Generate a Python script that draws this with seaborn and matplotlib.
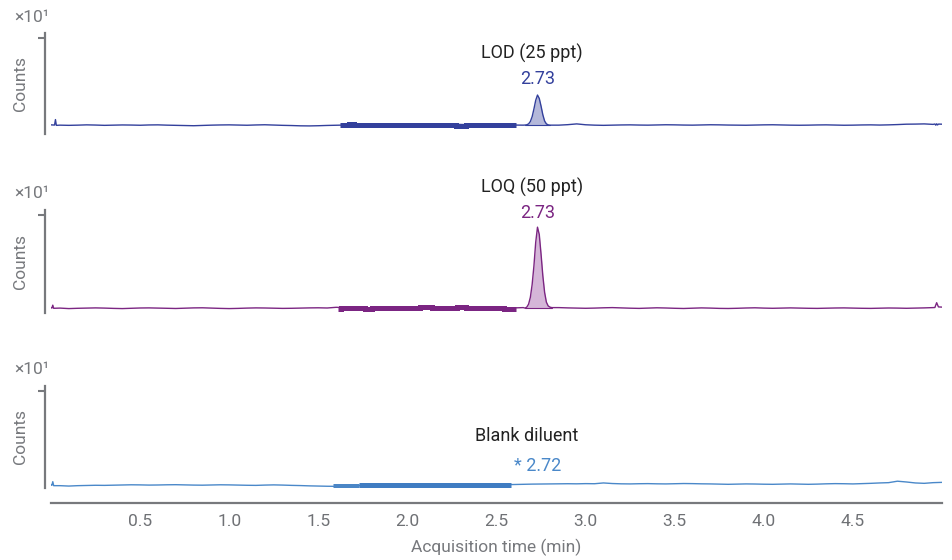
import numpy as np
import pandas as pd
import matplotlib
matplotlib.use("Agg")
import matplotlib.pyplot as plt
import seaborn as sns

# ---------------- data ----------------
t_grid = [round(0.05 * i, 2) for i in range(101)]

lod_base = [0.95, 0.92, 0.90, 0.92, 0.95, 0.93, 0.90, 0.92, 0.94, 0.93,
            0.91, 0.94, 0.95, 0.92, 0.90, 0.88, 0.86, 0.89, 0.92, 0.94,
            0.95, 0.93, 0.91, 0.94, 0.96, 0.93, 0.90, 0.88, 0.85, 0.84,
            0.86, 0.89, 0.91, 0.93, 0.95, 1.00, 1.02, 0.99, 0.97, 0.98,
            1.00, 0.98, 0.96, 0.97, 0.99, 1.01, 0.99, 0.97, 0.98, 1.00,
            0.98, 0.95, 0.93, 0.92, 0.93, 0.95, 0.93, 0.92, 0.97, 1.05,
            0.96, 0.92, 0.90, 0.92, 0.94, 0.95, 0.93, 0.92, 0.94, 0.96,
            0.95, 0.93, 0.92, 0.94, 0.96, 0.95, 0.93, 0.92, 0.91, 0.93,
            0.95, 0.96, 0.94, 0.92, 0.91, 0.92, 0.94, 0.95, 0.93, 0.91,
            0.92, 0.94, 0.95, 0.93, 0.95, 0.98, 1.02, 1.03, 1.05, 1.00, 1.02]
lod_peak_t = [2.66, 2.67, 2.68, 2.69, 2.70, 2.71, 2.72, 2.73, 2.74, 2.75,
              2.76, 2.77, 2.78, 2.79, 2.80]
lod_peak_y = [0.93, 0.96, 1.05, 1.30, 1.80, 2.60, 3.50, 4.05, 3.70, 2.90,
              2.00, 1.35, 1.05, 0.95, 0.92]
lod_spike_t = [0.02, 0.025, 0.03, 4.96, 4.965, 4.97, 4.975, 4.98]
lod_spike_y = [0.93, 1.50, 0.90, 1.04, 0.92, 1.06, 0.94, 1.03]

loq_base = [0.55, 0.50, 0.45, 0.48, 0.50, 0.52, 0.50, 0.47, 0.45, 0.48,
            0.51, 0.52, 0.50, 0.48, 0.46, 0.49, 0.52, 0.53, 0.50, 0.47,
            0.45, 0.47, 0.50, 0.52, 0.51, 0.49, 0.47, 0.48, 0.50, 0.52,
            0.53, 0.51, 0.58, 0.55, 0.50, 0.47, 0.48, 0.50, 0.52, 0.50,
            0.48, 0.50, 0.53, 0.55, 0.52, 0.50, 0.49, 0.50, 0.52, 0.50,
            0.48, 0.50, 0.52, 0.55, 0.52, 0.50, 0.52, 0.55, 0.52, 0.50,
            0.48, 0.50, 0.53, 0.55, 0.52, 0.49, 0.47, 0.50, 0.53, 0.51,
            0.48, 0.46, 0.49, 0.52, 0.50, 0.47, 0.46, 0.48, 0.51, 0.53,
            0.50, 0.48, 0.50, 0.52, 0.50, 0.48, 0.47, 0.49, 0.51, 0.52,
            0.50, 0.48, 0.47, 0.49, 0.51, 0.50, 0.48, 0.50, 0.52, 0.55, 0.60]
loq_peak_t = [2.66, 2.67, 2.68, 2.69, 2.70, 2.71, 2.72, 2.73, 2.74, 2.75,
              2.76, 2.77, 2.78, 2.79, 2.80, 2.81]
loq_peak_y = [0.50, 0.60, 0.90, 1.60, 2.90, 4.80, 7.20, 8.75, 8.00, 6.00,
              3.80, 2.10, 1.10, 0.72, 0.60, 0.55]
loq_spike_t = [0.005, 0.01, 0.015, 4.96, 4.97, 4.98]
loq_spike_y = [0.50, 0.80, 0.48, 0.56, 1.05, 0.62]

blank_base = [0.30, 0.24, 0.20, 0.24, 0.26, 0.28, 0.27, 0.29, 0.31, 0.33,
              0.32, 0.30, 0.31, 0.33, 0.34, 0.32, 0.30, 0.29, 0.31, 0.33,
              0.32, 0.30, 0.28, 0.27, 0.30, 0.32, 0.30, 0.27, 0.25, 0.22,
              0.20, 0.18, 0.17, 0.19, 0.22, 0.26, 0.28, 0.29, 0.30, 0.31,
              0.32, 0.31, 0.30, 0.32, 0.33, 0.32, 0.31, 0.33, 0.34, 0.33,
              0.32, 0.34, 0.36, 0.38, 0.40, 0.41, 0.42, 0.43, 0.44, 0.43,
              0.45, 0.44, 0.52, 0.46, 0.43, 0.42, 0.44, 0.45, 0.43, 0.42,
              0.44, 0.46, 0.45, 0.43, 0.42, 0.40, 0.38, 0.40, 0.42, 0.41,
              0.39, 0.38, 0.40, 0.42, 0.40, 0.38, 0.40, 0.43, 0.45, 0.44,
              0.42, 0.45, 0.48, 0.52, 0.55, 0.70, 0.62, 0.52, 0.48, 0.55, 0.58]
blank_spike_t = [0.005, 0.01, 0.015]
blank_spike_y = [0.28, 0.65, 0.24]

# integration baseline segments (time, level)
lod_int_t = [1.62, 1.67, 1.67, 1.70, 1.70, 2.27, 2.27, 2.33, 2.33, 2.61]
lod_int_y = [0.90, 0.90, 1.00, 1.00, 0.90, 0.90, 0.78, 0.78, 0.90, 0.90]
loq_int_t = [1.61, 1.63, 1.63, 1.76, 1.76, 1.80, 1.80, 2.07, 2.07, 2.14,
             2.14, 2.28, 2.28, 2.33, 2.33, 2.54, 2.54, 2.61]
loq_int_y = [0.45, 0.45, 0.52, 0.52, 0.40, 0.40, 0.50, 0.50, 0.58, 0.58,
             0.50, 0.50, 0.58, 0.58, 0.50, 0.50, 0.42, 0.42]
blank_int1_t = [1.58, 1.73]
blank_int1_y = [0.18, 0.18]
blank_int2_t = [1.73, 2.58]
blank_int2_y = [0.28, 0.28]

titles = ["LOD (25 ppt)", "LOQ (50 ppt)", "Blank diluent"]
rt_labels = ["2.73", "2.73", "* 2.72"]
x_ticks = [0.5, 1.0, 1.5, 2.0, 2.5, 3.0, 3.5, 4.0, 4.5]

colors = ["#33409c", "#7b2582", "#4a88c9"]
fills = ["#b4b8da", "#d5b6d8", None]


def merge(base, extra_t, extra_y, pt=None, py=None):
    t = np.array(t_grid, dtype=float)
    y = np.array(base, dtype=float)
    if pt is not None:
        m = (t < pt[0] - 0.001) | (t > pt[-1] + 0.001)
        t = np.concatenate([t[m], pt])
        y = np.concatenate([y[m], py])
    t = np.concatenate([t, extra_t])
    y = np.concatenate([y, extra_y])
    o = np.argsort(t, kind="stable")
    return pd.DataFrame({"t": t[o], "y": y[o]})


traces = [merge(lod_base, lod_spike_t, lod_spike_y, lod_peak_t, lod_peak_y),
          merge(loq_base, loq_spike_t, loq_spike_y, loq_peak_t, loq_peak_y),
          merge(blank_base, blank_spike_t, blank_spike_y)]
peaks = [(lod_peak_t, lod_peak_y), (loq_peak_t, loq_peak_y), None]
ints = [[(lod_int_t, lod_int_y, colors[0])],
        [(loq_int_t, loq_int_y, colors[1])],
        [(blank_int1_t, blank_int1_y, "#4b86c6"), (blank_int2_t, blank_int2_y, "#3f7cc2")]]

# ---------------- style ----------------
sns.set_theme(style="white")
plt.rcParams["font.family"] = ["Roboto", "DejaVu Sans"]
gray = "#77797d"

W, H = 953, 560
fig = plt.figure(figsize=(W / 100, H / 100), dpi=100)

panel_px = [(33, 134), (210, 313), (386, 488)]
x0, x1 = 51, 942
title_y = [8.42, 12.8, 5.35]
rt_y = [5.72, 10.19, 2.26]
title_x = [2.70, 2.70, 2.67]
rt_x = [2.73, 2.73, 2.73]

for i in range(3):
    top, bot = panel_px[i]
    ax = fig.add_axes([x0 / W, 1 - bot / H, (x1 - x0) / W, (bot - top) / H])
    df = traces[i]
    sns.lineplot(data=df, x="t", y="y", ax=ax, color=colors[i], lw=1.0,
                 estimator=None, sort=False)
    if peaks[i] is not None:
        pt, py = peaks[i]
        lvl = min(py[0], py[-1])
        ax.fill_between(pt, lvl, py, color=fills[i], lw=0, zorder=1)
        ax.plot([pt[0], pt[-1]], [lvl, lvl], color=colors[i], lw=0.8)
    for it, iy, c in ints[i]:
        ax.plot(it, iy, color=c, lw=3.6, solid_capstyle="butt",
                solid_joinstyle="miter", zorder=3)
    ax.set_xlim(0, 5)
    ax.set_ylim(0, 10.5)
    ax.set_yticks([10])
    ax.set_yticklabels([""])
    ax.tick_params(axis="y", left=True, length=5, width=1.5, color=gray)
    for s in ["top", "right"]:
        ax.spines[s].set_visible(False)
    ax.spines["left"].set_color(gray)
    ax.spines["left"].set_linewidth(1.6)
    ax.spines["left"].set_position(("outward", 4.3))
    ax.set_ylabel("Counts", color=gray, fontsize=12.5)
    ax.yaxis.set_label_coords(-0.026, 0.5)
    ax.text(-0.021, 1.158, "×10¹", transform=ax.transAxes, ha="center",
            va="center", color=gray, fontsize=12.5)
    ax.text(title_x[i], title_y[i], titles[i], ha="center", va="center",
            color="#222222", fontsize=13, clip_on=False)
    ax.text(rt_x[i], rt_y[i], rt_labels[i], ha="center", va="center",
            color=colors[i], fontsize=13, clip_on=False)
    if i < 2:
        ax.spines["bottom"].set_visible(False)
        ax.set_xticks([])
        ax.set_xlabel("")
    else:
        ax.spines["bottom"].set_color(gray)
        ax.spines["bottom"].set_linewidth(1.6)
        ax.spines["bottom"].set_position(("outward", 10.8))
        ax.set_xticks(x_ticks)
        ax.set_xticklabels([f"{v:.1f}" for v in x_ticks], color="#6f7175",
                           fontsize=12.5)
        ax.tick_params(axis="x", bottom=True, length=0, pad=8)
        ax.set_xlabel("Acquisition time (min)", color=gray, fontsize=12.5)
        ax.xaxis.set_label_coords(0.5, -0.50)
    ax.set_facecolor("none")

fig.savefig("out.png", dpi=100)
